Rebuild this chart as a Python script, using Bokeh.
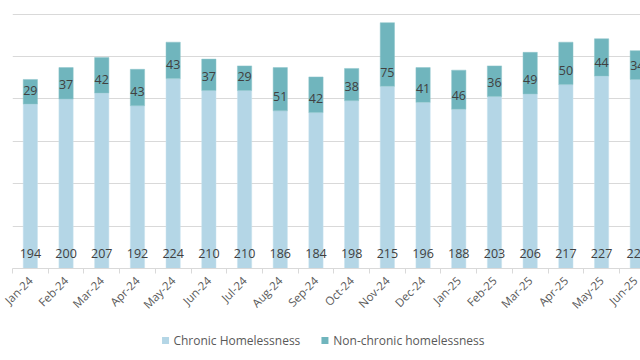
from bokeh.plotting import figure
from bokeh.layouts import column
from bokeh.models import ColumnDataSource, FixedTicker, Range1d
from bokeh.core.properties import value
from bokeh.embed import file_html
from bokeh.resources import INLINE

months = ["Jan-24", "Feb-24", "Mar-24", "Apr-24", "May-24", "Jun-24", "Jul-24", "Aug-24", "Sep-24",
          "Oct-24", "Nov-24", "Dec-24", "Jan-25", "Feb-25", "Mar-25", "Apr-25", "May-25", "Jun-25"]
chronic = [194, 200, 207, 192, 224, 210, 210, 186, 184, 198, 215, 196, 188, 203, 206, 217, 227, 223]
non_chronic = [29, 37, 42, 43, 43, 37, 29, 51, 42, 38, 75, 41, 46, 36, 49, 50, 44, 34]
series_names = ["Chronic Homelessness", "Non-chronic homelessness"]

C1 = "#B4D6E6"
C2 = "#70B5BD"
FONT = "Open Sans"

xs = list(range(len(months)))
total = [a + b for a, b in zip(chronic, non_chronic)]
src = ColumnDataSource(dict(x=xs, chronic=chronic, non=non_chronic, total=total,
                            zero=[0] * len(xs),
                            lab1=[str(v) for v in chronic], lab2=[str(v) for v in non_chronic]))

p = figure(frame_width=628, frame_height=256, output_backend="svg", toolbar_location=None,
           x_range=Range1d(-0.5, 17.09), y_range=Range1d(0, 302),
           min_border_left=12, min_border_right=0, min_border_top=12, min_border_bottom=52)
p.outline_line_color = None
p.background_fill_color = "white"

p.vbar(x="x", bottom="zero", top="chronic", width=0.4, source=src,
       fill_color=C1, line_color="#C9E2EE", line_width=0.5)
p.vbar(x="x", bottom="chronic", top="total", width=0.4, source=src,
       fill_color=C2, line_color="#8CC4CB", line_width=0.5)

p.text(x="x", y="zero", text="lab1", source=src, y_offset=-15,
       text_align="center", text_baseline="middle", text_font=value(FONT),
       text_font_size="12.5px", text_color="#404040")
p.text(x="x", y="chronic", text="lab2", source=src, y_offset=-14,
       text_align="center", text_baseline="middle", text_font=value(FONT),
       text_font_size="12.5px", text_color="#404040")

p.yaxis.visible = False
p.ygrid.ticker = FixedTicker(ticks=[0, 50, 100, 150, 200, 250, 300])
p.ygrid.grid_line_color = "#D9D9D9"
p.ygrid.grid_line_width = 1.2
p.xgrid.grid_line_color = None

ax = p.xaxis[0]
ax.ticker = FixedTicker(ticks=xs, minor_ticks=[i - 0.5 for i in range(len(xs) + 1)])
ax.major_label_overrides = {i: m for i, m in enumerate(months)}
ax.major_label_orientation = 0.785398
ax.major_tick_line_color = None
ax.minor_tick_line_color = "#D9D9D9"
ax.minor_tick_out = 5
ax.minor_tick_in = 0
ax.axis_line_color = "#D9D9D9"
ax.axis_line_width = 1.2
ax.major_label_text_font = FONT
ax.major_label_text_font_size = "11.5px"
ax.major_label_text_color = "#595959"
ax.major_label_standoff = 4

# legend strip below the chart (pixel coordinates)
lf = figure(width=632, height=38, output_backend="svg", toolbar_location=None,
            x_range=Range1d(0, 632), y_range=Range1d(0, 38),
            min_border_left=0, min_border_right=0, min_border_top=0, min_border_bottom=0)
lf.axis.visible = False
lf.grid.visible = False
lf.outline_line_color = None
leg = ColumnDataSource(dict(sx=[156, 318.5], tx=[164, 327], y=[18, 18],
                            color=[C1, C2], label=series_names))
lf.rect(x="sx", y="y", width=7, height=7, width_units="screen", height_units="screen",
        fill_color="color", line_color=None, source=leg)
lf.text(x="tx", y="y", text="label", source=leg, text_align="left", text_baseline="middle",
        text_font=value(FONT), text_font_size="12px", text_color="#595959")

open("out.html", "w").write(file_html(column(p, lf), INLINE))
